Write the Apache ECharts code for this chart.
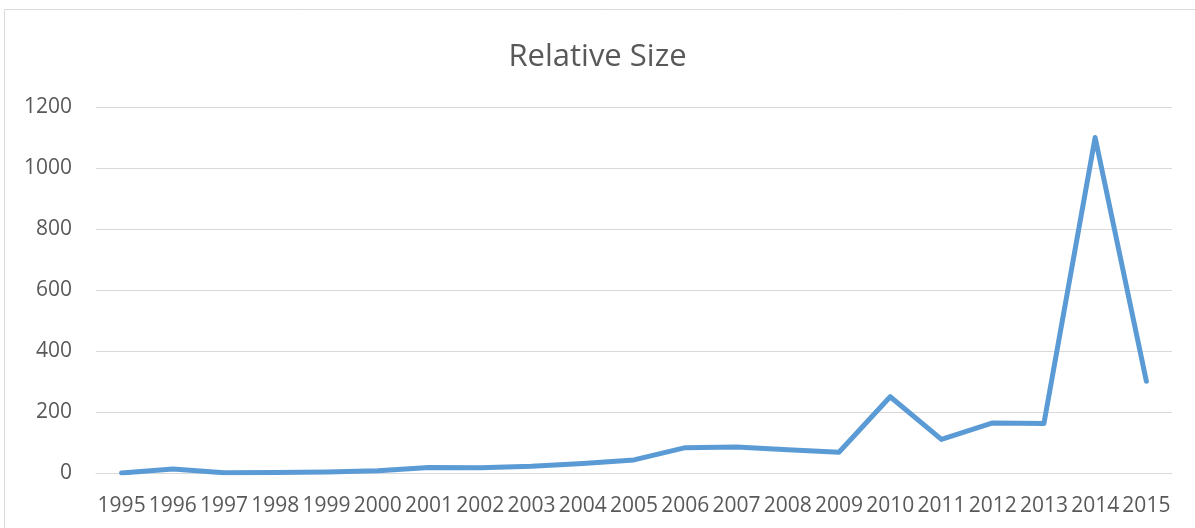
<!DOCTYPE html>
<html>
<head>
<meta charset="utf-8">
<script src="https://cdn.jsdelivr.net/npm/echarts@6/dist/echarts.min.js"></script>
<style>
  html, body { margin: 0; padding: 0; background: #ffffff; }
  #chart { width: 1195px; height: 528px; }
</style>
</head>
<body>
<div id="chart"></div>
<script>
// Years on the category axis
const years = ['1995', '1996', '1997', '1998', '1999', '2000', '2001', '2002', '2003', '2004',
  '2005', '2006', '2007', '2008', '2009', '2010', '2011', '2012', '2013', '2014', '2015'];

// Relative size per year
const relativeSize = [0, 13, 1, 2, 3, 7, 18, 17, 22, 31,
  43, 83, 85, 76, 68, 250, 110, 164, 162, 1100, 301];

// Value axis range
const yMin = 0;
const yMax = 1200;
const yStep = 200;

const chart = echarts.init(document.getElementById('chart'), null, { renderer: 'canvas' });

const textColor = '#595959';
const gridColor = '#D9D9D9';
const fontFamily = '"Open Sans", "Noto Sans", sans-serif';

chart.setOption({
  backgroundColor: '#ffffff',
  animation: false,
  graphic: [{
    type: 'rect',
    shape: { x: 4.5, y: 9.5, width: 1200, height: 530 },
    style: { fill: 'none', stroke: '#D9D9D9', lineWidth: 1 },
    silent: true
  }],
  title: {
    text: 'Relative Size',
    left: 'center',
    top: 37,
    textStyle: { color: textColor, fontSize: 31, fontWeight: 'normal', fontFamily: fontFamily }
  },
  grid: { left: 96, right: 23, top: 107, bottom: 55, containLabel: false },
  xAxis: {
    type: 'category',
    data: years,
    boundaryGap: true,
    axisLine: { show: true, lineStyle: { color: gridColor, width: 1 } },
    axisTick: { show: false },
    axisLabel: { interval: 0, color: textColor, fontSize: 21, fontFamily: fontFamily, margin: 23 },
    splitLine: { show: false }
  },
  yAxis: {
    type: 'value',
    min: yMin,
    max: yMax,
    interval: yStep,
    axisLine: { show: false },
    axisTick: { show: false },
    axisLabel: {
      color: textColor, fontSize: 21, fontFamily: fontFamily, margin: 24,
      formatter: (v) => String(v)
    },
    splitLine: { show: true, lineStyle: { color: gridColor, width: 1 } }
  },
  series: [{
    name: 'Relative Size',
    type: 'line',
    data: relativeSize,
    showSymbol: false,
    symbol: 'none',
    lineStyle: { color: '#5B9BD5', width: 5, cap: 'round', join: 'round' },
    itemStyle: { color: '#5B9BD5' }
  }]
});
</script>
</body>
</html>
